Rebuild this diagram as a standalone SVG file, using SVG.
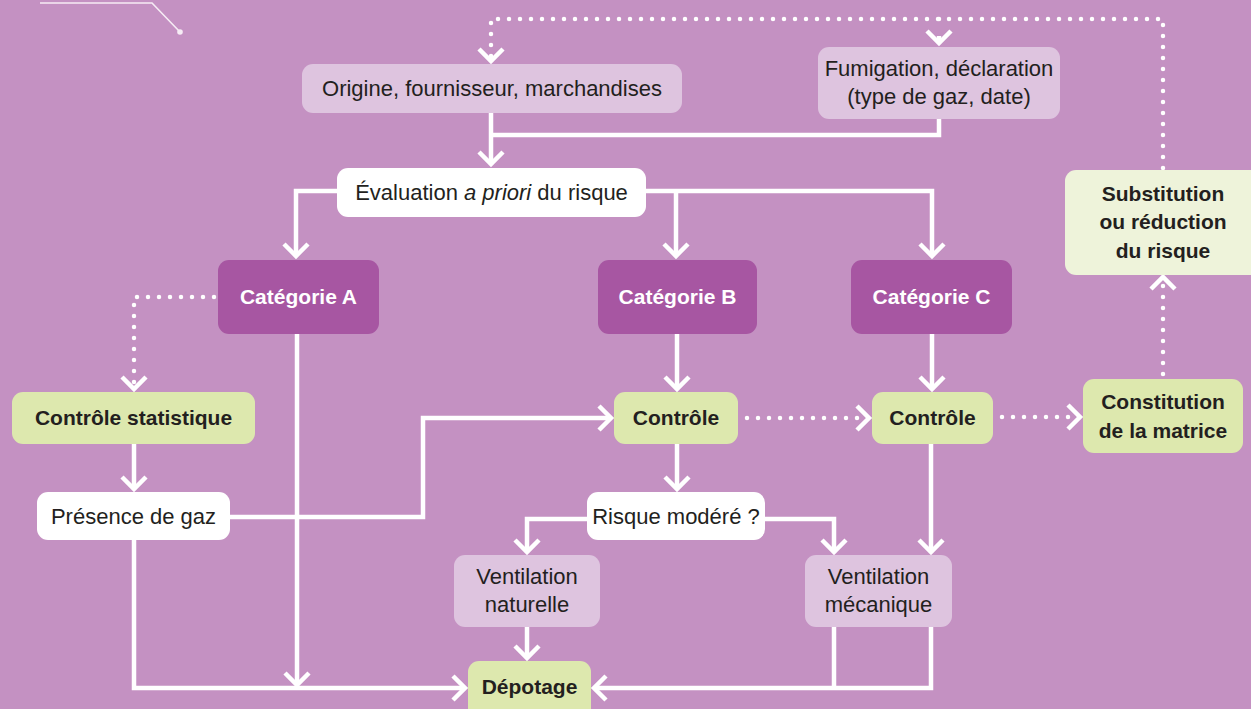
<svg xmlns="http://www.w3.org/2000/svg" width="1251" height="709" viewBox="0 0 1251 709">
<style>
.bg{fill:#C491C2}
.lp{fill:#DEC4DF}
.dp{fill:#A756A2}
.gr{fill:#DDE8AE}
.lg{fill:#EEF3DA}
.wh{fill:#FFFFFF}
text{font-family:"Liberation Sans",Arial,sans-serif;font-size:22px;fill:#231F20;text-anchor:middle}
.b{font-weight:bold;font-size:21px}
.w{fill:#FFFFFF}
.ln{fill:none;stroke:#FFFFFF;stroke-width:4.5}
.dt{fill:none;stroke:#FFFFFF;stroke-width:4.5;stroke-linecap:round;stroke-dasharray:0 11}
</style>
<defs>
<marker id="ah" markerUnits="userSpaceOnUse" markerWidth="30" markerHeight="30" viewBox="-15 -15 30 30" refX="0" refY="0" orient="auto" overflow="visible">
<path d="M-12,-12 L0,0 L-12,12" fill="none" stroke="#FFFFFF" stroke-width="4.5"/>
</marker>
</defs>
<rect class="bg" x="0" y="0" width="1251" height="709"/>
<g id="decor">
<polyline points="40,3 152,3 180,32" fill="none" stroke="#F6ECF5" stroke-width="1.6"/>
<circle cx="180" cy="32" r="2.8" fill="#F6ECF5"/>
</g>
<g id="connectors">
<path class="ln" d="M491,113 V164" marker-end="url(#ah)"/>
<path class="ln" d="M939,119 V135 H491"/>
<path class="ln" d="M337,191 H296 V256" marker-end="url(#ah)"/>
<path class="ln" d="M646,191 H932 V256" marker-end="url(#ah)"/>
<path class="ln" d="M676,191 V256" marker-end="url(#ah)"/>
<path class="ln" d="M677,334 V389" marker-end="url(#ah)"/>
<path class="ln" d="M932,334 V389" marker-end="url(#ah)"/>
<path class="ln" d="M134,444 V489" marker-end="url(#ah)"/>
<path class="ln" d="M297,334 V685" marker-end="url(#ah)"/>
<path class="ln" d="M230,517 H423 V418 H611" marker-end="url(#ah)"/>
<path class="ln" d="M134,540 V688 H465" marker-end="url(#ah)"/>
<path class="ln" d="M677,444 V489" marker-end="url(#ah)"/>
<path class="ln" d="M587,519 H527 V552" marker-end="url(#ah)"/>
<path class="ln" d="M765,519 H834 V552" marker-end="url(#ah)"/>
<path class="ln" d="M931,444 V552" marker-end="url(#ah)"/>
<path class="ln" d="M527,627 V658" marker-end="url(#ah)"/>
<path class="ln" d="M931,627 V688 H594" marker-end="url(#ah)"/>
<path class="ln" d="M834,627 V688"/>
<path class="dt" d="M214,297 H134 V389" marker-end="url(#ah)"/>
<path class="dt" d="M747,418 H869" marker-end="url(#ah)"/>
<path class="dt" d="M1002,417 H1080" marker-end="url(#ah)"/>
<path class="dt" d="M1163,374 V277" marker-end="url(#ah)"/>
<path class="dt" d="M1163,168 V19 H491 V61" marker-end="url(#ah)"/>
<path class="dt" d="M939,19 V30"/>
<path class="ln" d="M939,36 V43" stroke-width="0" marker-end="url(#ah)"/>
</g>
<g id="n-origine"><rect class="lp" x="302" y="64" width="380" height="49" rx="11"/><text x="492" y="96">Origine, fournisseur, marchandises</text></g>
<g id="n-fumigation"><rect class="lp" x="818" y="47" width="242" height="72" rx="11"/><text x="939" y="76">Fumigation, déclaration</text><text x="939" y="104">(type de gaz, date)</text></g>
<g id="n-evaluation"><rect class="wh" x="337" y="168" width="309" height="49" rx="11"/><text x="491.5" y="200">Évaluation <tspan font-style="italic">a priori</tspan> du risque</text></g>
<g id="n-catA"><rect class="dp" x="218" y="260" width="161" height="74" rx="11"/><text class="b w" x="298.5" y="304">Catégorie A</text></g>
<g id="n-catB"><rect class="dp" x="598" y="260" width="159" height="74" rx="11"/><text class="b w" x="677.5" y="304">Catégorie B</text></g>
<g id="n-catC"><rect class="dp" x="851" y="260" width="161" height="74" rx="11"/><text class="b w" x="931.5" y="304">Catégorie C</text></g>
<g id="n-substitution"><rect class="lg" x="1065" y="170" width="196" height="105" rx="11"/><text class="b" x="1163" y="201">Substitution</text><text class="b" x="1163" y="229">ou réduction</text><text class="b" x="1163" y="258">du risque</text></g>
<g id="n-ctrlstat"><rect class="gr" x="12" y="392" width="243" height="52" rx="11"/><text class="b" x="133.5" y="425">Contrôle statistique</text></g>
<g id="n-ctrlB"><rect class="gr" x="614" y="392" width="124" height="52" rx="11"/><text class="b" x="676" y="425">Contrôle</text></g>
<g id="n-ctrlC"><rect class="gr" x="872" y="392" width="121" height="52" rx="11"/><text class="b" x="932.5" y="425">Contrôle</text></g>
<g id="n-constitution"><rect class="gr" x="1083" y="379" width="160" height="74" rx="11"/><text class="b" x="1163" y="409">Constitution</text><text class="b" x="1163" y="438">de la matrice</text></g>
<g id="n-presence"><rect class="wh" x="37" y="492" width="193" height="48" rx="11"/><text x="133.5" y="524">Présence de gaz</text></g>
<g id="n-risque"><rect class="wh" x="587" y="492" width="178" height="48" rx="11"/><text x="676" y="524">Risque modéré ?</text></g>
<g id="n-ventnat"><rect class="lp" x="454" y="555" width="146" height="72" rx="11"/><text x="527" y="584">Ventilation</text><text x="527" y="612">naturelle</text></g>
<g id="n-ventmec"><rect class="lp" x="805" y="555" width="147" height="72" rx="11"/><text x="878.5" y="584">Ventilation</text><text x="878.5" y="612">mécanique</text></g>
<g id="n-depotage"><rect class="gr" x="468" y="661" width="123" height="60" rx="11"/><text class="b" x="529.5" y="694">Dépotage</text></g>
</svg>
